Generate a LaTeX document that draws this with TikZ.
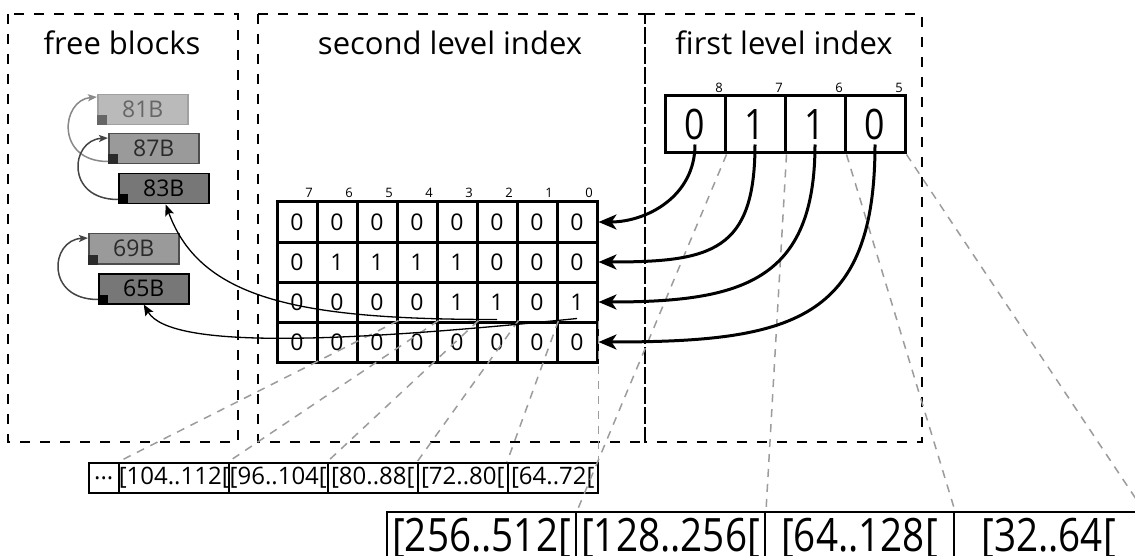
\documentclass[tikz,border=0pt]{standalone}
\usepackage{fontspec}
\setmainfont{Open Sans}
\newfontfamily\condfont[FakeStretch=0.85]{Open Sans}
\newfontfamily\bigcondfont[FakeStretch=0.84]{Open Sans}
\usetikzlibrary{arrows.meta,calc}
\definecolor{fillA}{HTML}{BABABA}
\definecolor{drawA}{HTML}{A0A0A0}
\definecolor{textA}{HTML}{666666}
\definecolor{fillB}{HTML}{9A9A9A}
\definecolor{drawB}{HTML}{4D4D4D}
\definecolor{textB}{HTML}{2A2A2A}
\definecolor{fillC}{HTML}{777777}
\definecolor{guidegray}{HTML}{9C9C9C}
\definecolor{arrA}{HTML}{888888}
\definecolor{arrB}{HTML}{444444}
\begin{document}
\begin{tikzpicture}[x=1pt,y=-1pt,
  dashframe/.style={draw=black, line width=1.5pt, dash pattern=on 10pt off 10pt},
  guideline/.style={draw=guidegray, line width=1.5pt, dash pattern=on 8pt off 7pt},
  scell/.style={draw=black, line width=3pt, minimum width=40pt, minimum height=40pt, inner sep=0pt, font=\fontsize{23}{23}\selectfont},
  fcell/.style={draw=black, line width=3pt, minimum width=60pt, minimum height=57pt, inner sep=0pt, font=\condfont\fontsize{42}{42}\selectfont},
  bitnum/.style={font=\fontsize{13}{13}\selectfont, inner sep=0pt},
  titletext/.style={font=\fontsize{31}{31}\selectfont, inner sep=0pt},
  rngbox/.style={draw=black, line width=1.5pt, minimum height=30pt, inner sep=0pt, font=\fontsize{24}{24}\selectfont, anchor=north west},
  bigrngbox/.style={draw=black, line width=2pt, minimum width=189pt, text height=39pt, text depth=12pt, inner sep=0pt, font=\bigcondfont\fontsize{46}{46}\selectfont, anchor=north},
  blkbox/.style={minimum width=90pt, minimum height=30pt, inner sep=0pt, line width=1.5pt, font=\fontsize{23}{23}\selectfont, anchor=north west},
  ptr/.style={draw=black, line width=3pt, -{Stealth[length=18pt,width=15pt,inset=5pt]}},
  lnk/.style={draw=black, line width=1.3pt, -{Stealth[length=11pt,width=9pt,inset=2pt]}},
  flnk/.style={line width=1.5pt, -{Stealth[length=9pt,width=7pt,inset=2pt]}}
]
\useasboundingbox (0,0) rectangle (1135,556);
\clip (0,0) rectangle (1135,556);
\fill[white] (0,0) rectangle (1135,556);

% dashed frames
\draw[dashframe] (8,14) rectangle (238,442);
\draw[dashframe] (258,14) rectangle (645,442);
\draw[dashframe] (645,14) rectangle (922,442);

% titles
\node[titletext] (t1) at (122,43) {free blocks};
\node[titletext] (t2) at (450,43) {second level index};
\node[titletext] (t3) at (784,43) {first level index};

% second level index table
\foreach \row [count=\r from 0] in {{0,0,0,0,0,0,0,0},{0,1,1,1,1,0,0,0},{0,0,0,0,1,1,0,1},{0,0,0,0,0,0,0,0}} {
  \foreach \v [count=\i from 0] in \row {
    \pgfmathtruncatemacro\b{7-\i}
    \node[scell] (s\r-\b) at ({577-40*\b},{222+40*\r}) {\v};
  }
}
\foreach \b in {0,...,7} \node[bitnum] (bn\b) at ({589-40*\b},193) {\b};

% first level index table
\foreach \v/\lab [count=\i from 0] in {0/8,1/7,1/6,0/5} {
  \node[fcell] (f\i) at ({695+60*\i},124.5) {\v};
  \node[bitnum] (fn\i) at ({719+60*\i},88) {\lab};
}

% small ranges
\node[rngbox, minimum width=30pt] (r0) at (88,462) {...};
\node[rngbox, minimum width=110pt] (r1) at (118,462) {[104..112[};
\node[rngbox, minimum width=99pt] (r2) at (228,462) {[96..104[};
\node[rngbox, minimum width=90pt] (r3) at (327,462) {[80..88[};
\node[rngbox, minimum width=90pt] (r4) at (417,462) {[72..80[};
\node[rngbox, minimum width=90pt] (r5) at (507,462) {[64..72[};

% big ranges
\node[bigrngbox] (g0) at (481.5,511) {[256..512[};
\node[bigrngbox] (g1) at (670.5,511) {[128..256[};
\node[bigrngbox] (g2) at (859.5,511) {[64..128[};
\node[bigrngbox] (g3) at (1048.5,511) {[32..64[};

% guides
\draw[guideline] (s3-0.north east) -- (r5.north east);
\draw[guideline] (s3-1.north east) -- (r5.north west);
\draw[guideline] (s3-2.north east) -- (r4.north west);
\draw[guideline] (s3-3.north east) -- (r3.north west);
\draw[guideline] (s3-4.north east) -- (r2.north west);
\draw[guideline] (s3-5.north east) -- (r1.north west);
\draw[guideline] (f0.south east) -- (g0.north east);
\draw[guideline] (f1.south east) -- (g1.north east);
\draw[guideline] (f2.south east) -- (g2.north east);
\draw[guideline] (f3.south east) -- (g3.north east);

% free blocks
\node[blkbox, fill=fillA, draw=drawA, text=textA] (b81) at (97,94) {81B};
\fill[textA] (b81.south west) rectangle +(10,-10);
\node[blkbox, fill=fillB, draw=drawB, text=textB] (b87) at (108,133) {87B};
\fill[textB] (b87.south west) rectangle +(10,-10);
\node[blkbox, fill=fillC, draw=black, text=black] (b83) at (118,173) {83B};
\fill[black] (b83.south west) rectangle +(10,-10);
\node[blkbox, fill=fillB, draw=drawB, text=textB] (b69) at (88,233) {69B};
\fill[textB] (b69.south west) rectangle +(10,-10);
\node[blkbox, fill=fillC, draw=black, text=black] (b65) at (98,273) {65B};
\fill[black] (b65.south west) rectangle +(10,-10);

\draw[flnk, draw=arrA] ([yshift=3pt]b87.south west) .. controls +(-53,0) and +(-36,3) .. ([yshift=-3pt]b81.north west);
\draw[flnk, draw=arrB] ([yshift=5pt]b83.south west) .. controls +(-53,0) and +(-38,2) .. ([yshift=-5pt]b87.north west);
\draw[flnk, draw=arrB] ([yshift=5pt]b65.south west) .. controls +(-53,0) and +(-38,2) .. ([yshift=-5pt]b69.north west);

% links from second level to free blocks
\draw[lnk] ([yshift=4pt]s2-2.south) .. controls +(-195,0) and +(35,96) .. ([xshift=2pt]b83.south);
\draw[lnk] ([yshift=5pt]s2-0.south) .. controls +(-227,23) and +(27,46) .. (b65.south);

% links from first level to second level rows
\draw[ptr] ([yshift=10pt]f0.south) .. controls +(0,52) and +(48,0) .. (s0-0.east);
\draw[ptr] ([yshift=10pt]f1.south) .. controls +(0,107) and +(113,0) .. (s1-0.east);
\draw[ptr] ([yshift=10pt]f2.south) .. controls +(0,137) and +(143,0) .. (s2-0.east);
\draw[ptr] ([yshift=10pt]f3.south) .. controls +(0,177) and +(193,0) .. (s3-0.east);
\end{tikzpicture}
\end{document}
